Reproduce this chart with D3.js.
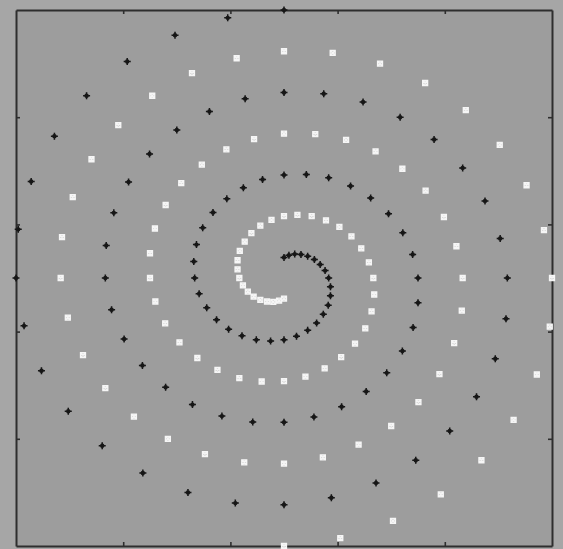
<!DOCTYPE html>
<html>
<head>
<meta charset="utf-8">
<script src="https://cdn.jsdelivr.net/npm/d3@7"></script>
<style>
  html, body { margin: 0; padding: 0; background: #a6a6a6; }
  svg { display: block; }
</style>
</head>
<body>
<svg id="chart" width="563" height="549"></svg>
<script>
// Two interleaved spirals, 97 points each (outermost point first)
const spiralAX = [
  0, -1.26, -2.44, -3.51, -4.42, -5.14, -5.66, -5.95, -6, -5.82, -5.43, -4.83, -4.07, -3.16, -2.15, -1.09,
  0, 1.06, 2.06, 2.95, 3.71, 4.31, 4.73, 4.97, 5, 4.84, 4.50, 4.00, 3.36, 2.60, 1.77, 0.89,
  0, -0.87, -1.67, -2.40, -3.01, -3.48, -3.81, -3.98, -4, -3.86, -3.58, -3.17, -2.65, -2.05, -1.39, -0.70,
  0, 0.67, 1.29, 1.84, 2.30, 2.65, 2.89, 3.00, 3, 2.88, 2.66, 2.34, 1.94, 1.49, 1.00, 0.50,
  0, -0.48, -0.91, -1.28, -1.59, -1.82, -1.96, -2.02, -2, -1.90, -1.73, -1.51, -1.24, -0.94, -0.62, -0.30,
  0, 0.28, 0.53, 0.73, 0.88, 0.99, 1.04, 1.04, 1, 0.92, 0.81, 0.68, 0.53, 0.38, 0.24, 0.11, 0
];
const spiralAY = [
  6.5, 6.31, 5.89, 5.25, 4.42, 3.44, 2.34, 1.18, 0, -1.16, -2.25, -3.23, -4.07, -4.73, -5.20, -5.46,
  -5.5, -5.33, -4.97, -4.42, -3.71, -2.88, -1.96, -0.99, 0, 0.96, 1.87, 2.67, 3.36, 3.90, 4.27, 4.47,
  4.5, 4.35, 4.04, 3.59, 3.01, 2.33, 1.58, 0.79, 0, -0.77, -1.48, -2.12, -2.65, -3.07, -3.35, -3.49,
  -3.5, -3.37, -3.12, -2.75, -2.30, -1.77, -1.20, -0.60, 0, 0.57, 1.10, 1.56, 1.94, 2.23, 2.43, 2.51,
  2.5, 2.39, 2.19, 1.92, 1.59, 1.22, 0.81, 0.40, 0, -0.38, -0.72, -1.01, -1.24, -1.40, -1.50, -1.53,
  -1.5, -1.41, -1.27, -1.09, -0.88, -0.66, -0.43, -0.21, 0, 0.18, 0.33, 0.45, 0.53, 0.57, 0.58, 0.55, 0.5
];
const spiralBX = [
  0, 1.26, 2.44, 3.51, 4.42, 5.14, 5.66, 5.95, 6, 5.82, 5.43, 4.83, 4.07, 3.16, 2.15, 1.09,
  0, -1.06, -2.06, -2.95, -3.71, -4.31, -4.73, -4.97, -5, -4.84, -4.50, -4.00, -3.36, -2.60, -1.77, -0.89,
  0, 0.87, 1.67, 2.40, 3.01, 3.48, 3.81, 3.98, 4, 3.86, 3.58, 3.17, 2.65, 2.05, 1.39, 0.70,
  0, -0.67, -1.29, -1.84, -2.30, -2.65, -2.89, -3.00, -3, -2.88, -2.66, -2.34, -1.94, -1.49, -1.00, -0.50,
  0, 0.48, 0.91, 1.28, 1.59, 1.82, 1.96, 2.02, 2, 1.90, 1.73, 1.51, 1.24, 0.94, 0.62, 0.30,
  0, -0.28, -0.53, -0.73, -0.88, -0.99, -1.04, -1.04, -1, -0.92, -0.81, -0.68, -0.53, -0.38, -0.24, -0.11, 0
];
const spiralBY = [
  -6.5, -6.31, -5.89, -5.25, -4.42, -3.44, -2.34, -1.18, 0, 1.16, 2.25, 3.23, 4.07, 4.73, 5.20, 5.46,
  5.5, 5.33, 4.97, 4.42, 3.71, 2.88, 1.96, 0.99, 0, -0.96, -1.87, -2.67, -3.36, -3.90, -4.27, -4.47,
  -4.5, -4.35, -4.04, -3.59, -3.01, -2.33, -1.58, -0.79, 0, 0.77, 1.48, 2.12, 2.65, 3.07, 3.35, 3.49,
  3.5, 3.37, 3.12, 2.75, 2.30, 1.77, 1.20, 0.60, 0, -0.57, -1.10, -1.56, -1.94, -2.23, -2.43, -2.51,
  -2.5, -2.39, -2.19, -1.92, -1.59, -1.22, -0.81, -0.40, 0, 0.38, 0.72, 1.01, 1.24, 1.40, 1.50, 1.53,
  1.5, 1.41, 1.27, 1.09, 0.88, 0.66, 0.43, 0.21, 0, -0.18, -0.33, -0.45, -0.53, -0.57, -0.58, -0.55, -0.5
];

// Axis limits and tick positions (no tick labels are shown)
const xDomain = [-6, 6];
const yDomain = [-6.5, 6.5];
const xTicks = [-3.6, -1.2, 1.2, 3.6];
const yTicks = [-3.9, -1.3, 1.3, 3.9];

const svg = d3.select("#chart");
const plotL = 16, plotR = 552, plotT = 10, plotB = 546;

const x = d3.scaleLinear().domain(xDomain).range([plotL, plotR]);
const y = d3.scaleLinear().domain(yDomain).range([plotB, plotT]);

// plot area
svg.append("rect")
  .attr("x", plotL).attr("y", plotT)
  .attr("width", plotR - plotL).attr("height", plotB - plotT)
  .attr("fill", "#9d9d9d");

// axes on all four sides, ticks pointing inward
const tickLen = 4;
function styleAxis(g) {
  g.selectAll("text").remove();
  g.select(".domain").attr("stroke", "#2e2e2e").attr("stroke-width", 2);
  g.selectAll(".tick line").attr("stroke", "#2e2e2e").attr("stroke-width", 1.6);
}
svg.append("g").attr("transform", `translate(0,${plotB})`)
  .call(d3.axisBottom(x).tickValues(xTicks).tickSizeInner(-tickLen).tickSizeOuter(0).tickFormat(""))
  .call(styleAxis);
svg.append("g").attr("transform", `translate(0,${plotT})`)
  .call(d3.axisTop(x).tickValues(xTicks).tickSizeInner(-tickLen).tickSizeOuter(0).tickFormat(""))
  .call(styleAxis);
svg.append("g").attr("transform", `translate(${plotL},0)`)
  .call(d3.axisLeft(y).tickValues(yTicks).tickSizeInner(-tickLen).tickSizeOuter(0).tickFormat(""))
  .call(styleAxis);
svg.append("g").attr("transform", `translate(${plotR},0)`)
  .call(d3.axisRight(y).tickValues(yTicks).tickSizeInner(-tickLen).tickSizeOuter(0).tickFormat(""))
  .call(styleAxis);

const blur = svg.append("defs").append("filter").attr("id", "soft")
  .attr("x", "-50%").attr("y", "-50%").attr("width", "200%").attr("height", "200%");
blur.append("feGaussianBlur").attr("stdDeviation", 0.5);

const pointsA = spiralAX.map((v, i) => ({ x: v, y: spiralAY[i] }));
const pointsB = spiralBX.map((v, i) => ({ x: v, y: spiralBY[i] }));

// white spiral: small boxed "x" markers
const boxX = "M-2.5,-2.5H2.5V2.5H-2.5Z M-2.5,-2.5L2.5,2.5M-2.5,2.5L2.5,-2.5";
svg.append("g").attr("filter", "url(#soft)")
  .selectAll("path").data(pointsB).join("path")
  .attr("transform", d => `translate(${x(d.x)},${y(d.y)})`)
  .attr("d", boxX)
  .attr("fill", "#d8d8d8")
  .attr("stroke", "#f6f6f6")
  .attr("stroke-width", 1.3);

// black spiral: small "+" with a solid centre
svg.append("g").attr("filter", "url(#soft)")
  .selectAll("g").data(pointsA).join("g")
  .attr("transform", d => `translate(${x(d.x)},${y(d.y)})`)
  .call(g => {
    g.append("path")
      .attr("d", "M-3.5,0H3.5M0,-3.5V3.5")
      .attr("stroke", "#151515").attr("stroke-width", 1.5);
    g.append("circle").attr("r", 2.2).attr("fill", "#151515");
  });
</script>
</body>
</html>
